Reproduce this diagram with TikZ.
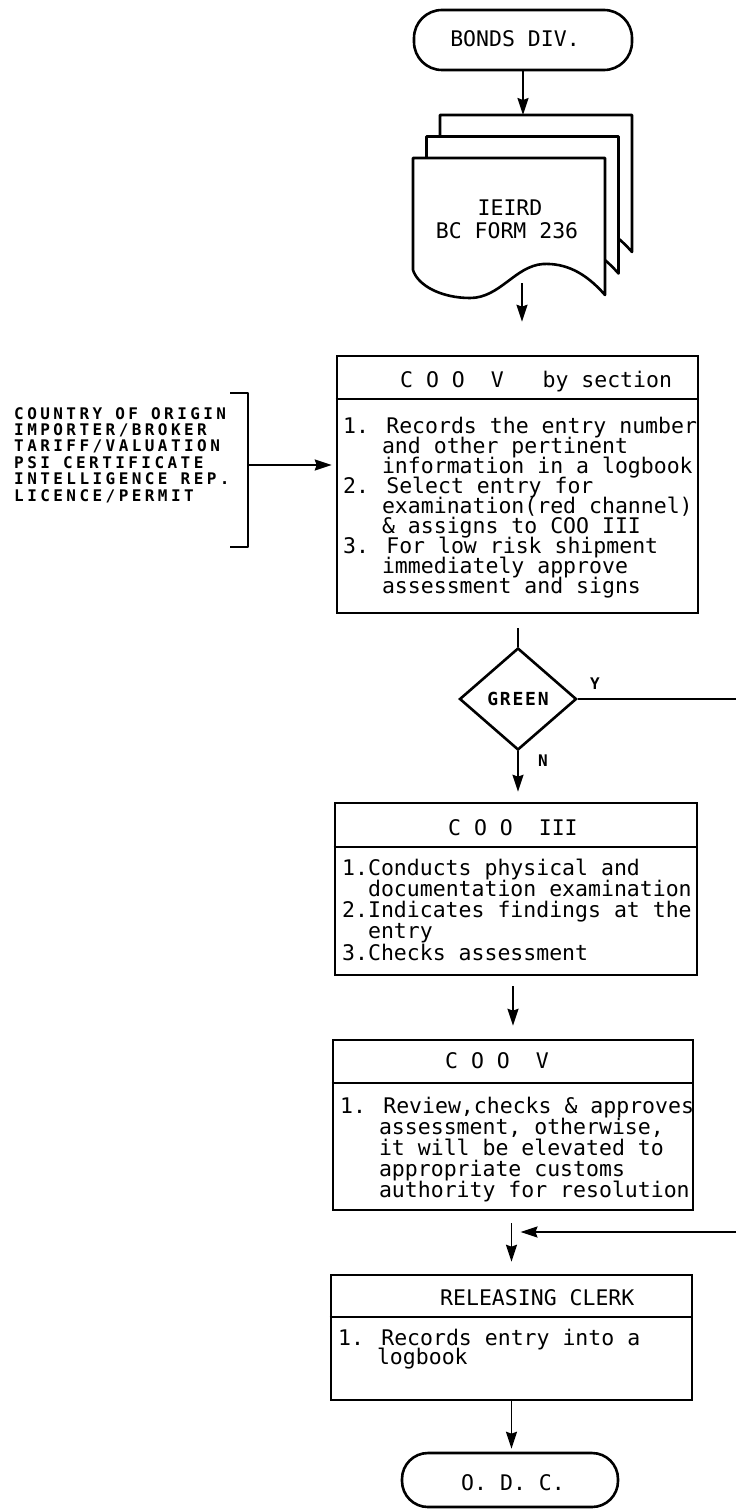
\documentclass[tikz,border=0pt]{standalone}
\usepackage{fontspec}
\setmainfont{DejaVu Sans Mono}
\newfontfamily\mono{DejaVu Sans Mono}
\newfontfamily\spaced[LetterSpace=21.5]{DejaVu Sans Mono}
\newfontfamily\spacedg[LetterSpace=10]{DejaVu Sans Mono}
\usetikzlibrary{arrows.meta,shapes.geometric}
\begin{document}
\begin{tikzpicture}[x=1pt,y=-1pt,
  boxln/.style={line width=2.6pt, draw=black, line join=round},
  procbox/.style={draw=black, line width=2.6pt, inner sep=0pt, rectangle},
  term/.style={draw=black, line width=2.6pt, inner sep=0pt, rectangle, rounded corners=28pt},
  conn/.style={line width=1.8pt, draw=black},
  arr/.style={conn, -{Stealth[length=17pt,width=11pt,inset=2pt]}},
  txt/.style={font=\mono\fontsize{21.5}{20}\selectfont, inner sep=0pt, anchor=base west},
  listtxt/.style={font=\spaced\bfseries\fontsize{16}{16}\selectfont, inner sep=0pt, anchor=base west},
  small/.style={font=\mono\bfseries\fontsize{16}{16}\selectfont, inner sep=0pt}]
\useasboundingbox (0,0) rectangle (736,1509);
\fill[white] (0,0) rectangle (736,1509);

% start terminator
\node[term, minimum width=218pt, minimum height=60pt] (bonds) at (523,40) {};
\node[txt, anchor=base] (bondsT) at (515,47) {BONDS DIV.};

% document stack
\foreach \s in {2,1,0}
  \draw[boxln, fill=white, shift={({13.5*\s},{-21.5*\s})}]
    (413,158) -- (605,158) -- (605,295)
    .. controls (585,272) and (565,263) .. (543,264)
    .. controls (515,266) and (500,298) .. (470,298)
    .. controls (442,298) and (418,286) .. (413,270) -- cycle;
\coordinate (docTop) at (523,115);
\coordinate (docOut) at (522,283);
\node[txt, anchor=base] (docA) at (510,215) {IEIRD};
\node[txt, anchor=base] (docB) at (507,238) {BC FORM 236};
\draw[arr] (bonds.south) -- (bonds.south |- docTop);

% COO V by section
\node[procbox, minimum width=361pt, minimum height=257pt] (cooA) at (517.5,484.5) {};
\draw[boxln] (cooA.west |- 0,399) -- (cooA.east |- 0,399);
\node[txt] (cooAh) at (400,387) {C O O~ V~~ by section};
\foreach \t [count=\i from 0] in {
  {1. Records the entry number},
  {\hphantom{000}and other pertinent},
  {\hphantom{000}information in a logbook},
  {2. Select entry for},
  {\hphantom{000}examination(red channel)},
  {\hphantom{000}\& assigns to COO III},
  {3. For low risk shipment},
  {\hphantom{000}immediately approve},
  {\hphantom{000}assessment and signs}}
  \node[txt] (a\i) at (343,433+20*\i) {\t};
\draw[arr, shorten >=33pt] (docOut) -- (docOut |- cooA.north);

% left list with bracket
\foreach \t [count=\i from 0] in {
  {COUNTRY OF ORIGIN},
  {IMPORTER/BROKER},
  {TARIFF/VALUATION},
  {PSI CERTIFICATE},
  {INTELLIGENCE REP.},
  {LICENCE/PERMIT}}
  \node[listtxt] (l\i) at (14,419+16.4*\i) {\t};
\draw[boxln] (230,393) -- (248,393) -- (248,547) -- (230,547);
\coordinate (brk) at (248,465);
\draw[arr, shorten >=4pt] (brk) -- (brk -| cooA.west);

% decision
\node[draw=black, diamond, line width=2.6pt, minimum width=117pt, minimum height=102pt,
      inner sep=0pt, font=\spacedg\bfseries\fontsize{18}{18}\selectfont] (dia) at (518,699) {GREEN};
\draw[conn, shorten <=14pt] (cooA.south -| dia.north) -- (dia.north);
\coordinate (yEnd) at (736,699);
\draw[conn] (dia.east) -- (yEnd);
\node[small] (ylab) at (595,684) {Y};
\node[small] (nlab) at (543,761) {N};

% COO III
\node[procbox, minimum width=362pt, minimum height=172pt] (cooB) at (516,889) {};
\draw[boxln] (cooB.west |- 0,847) -- (cooB.east |- 0,847);
\node[txt] (cooBh) at (448,835) {C O O~ III};
\foreach \t [count=\i from 0] in {
  {1.Conducts physical and},
  {\hphantom{00}documentation examination},
  {2.Indicates findings at the},
  {\hphantom{00}entry},
  {3.Checks assessment}}
  \node[txt] (b\i) at (342,875+21.25*\i) {\t};
\draw[arr, shorten >=10pt] (dia.south) -- (dia.south |- cooB.north);

% COO V
\node[procbox, minimum width=360pt, minimum height=170pt] (cooC) at (513,1125) {};
\draw[boxln] (cooC.west |- 0,1083) -- (cooC.east |- 0,1083);
\node[txt] (cooCh) at (445,1068) {C O O~ V};
\foreach \t [count=\i from 0] in {
  {1. Review,checks \& approves},
  {\hphantom{000}assessment, otherwise,},
  {\hphantom{000}it will be elevated to},
  {\hphantom{000}appropriate customs},
  {\hphantom{000}authority for resolution}}
  \node[txt] (c\i) at (340,1113+21*\i) {\t};
\draw[arr, shorten <=10pt, shorten >=13pt] (cooB.south -| cooC.north) -- (cooC.north);

% Releasing clerk
\node[procbox, minimum width=361pt, minimum height=125pt] (rel) at (511.5,1337.5) {};
\draw[boxln] (rel.west |- 0,1317) -- (rel.east |- 0,1317);
\node[txt] (relh) at (440,1305) {RELEASING CLERK};
\node[txt] (r0) at (338,1345) {1. Records entry into a};
\node[txt] (r1) at (338,1364) {\hphantom{000}logbook};
\draw[arr, shorten <=12pt, shorten >=12pt] (cooC.south -| rel.north) -- (rel.north);
\coordinate (retStart) at (736,1232);
\draw[arr, shorten >=9pt] (retStart) -- (retStart -| rel.north);

% end terminator
\node[term, minimum width=216pt, minimum height=54pt, rounded corners=26pt] (odc) at (510,1480) {};
\node[txt, anchor=base] (odcT) at (513,1490) {O. D. C.};
\draw[arr, shorten >=3pt] (rel.south) -- (rel.south |- odc.north);
\end{tikzpicture}
\end{document}
